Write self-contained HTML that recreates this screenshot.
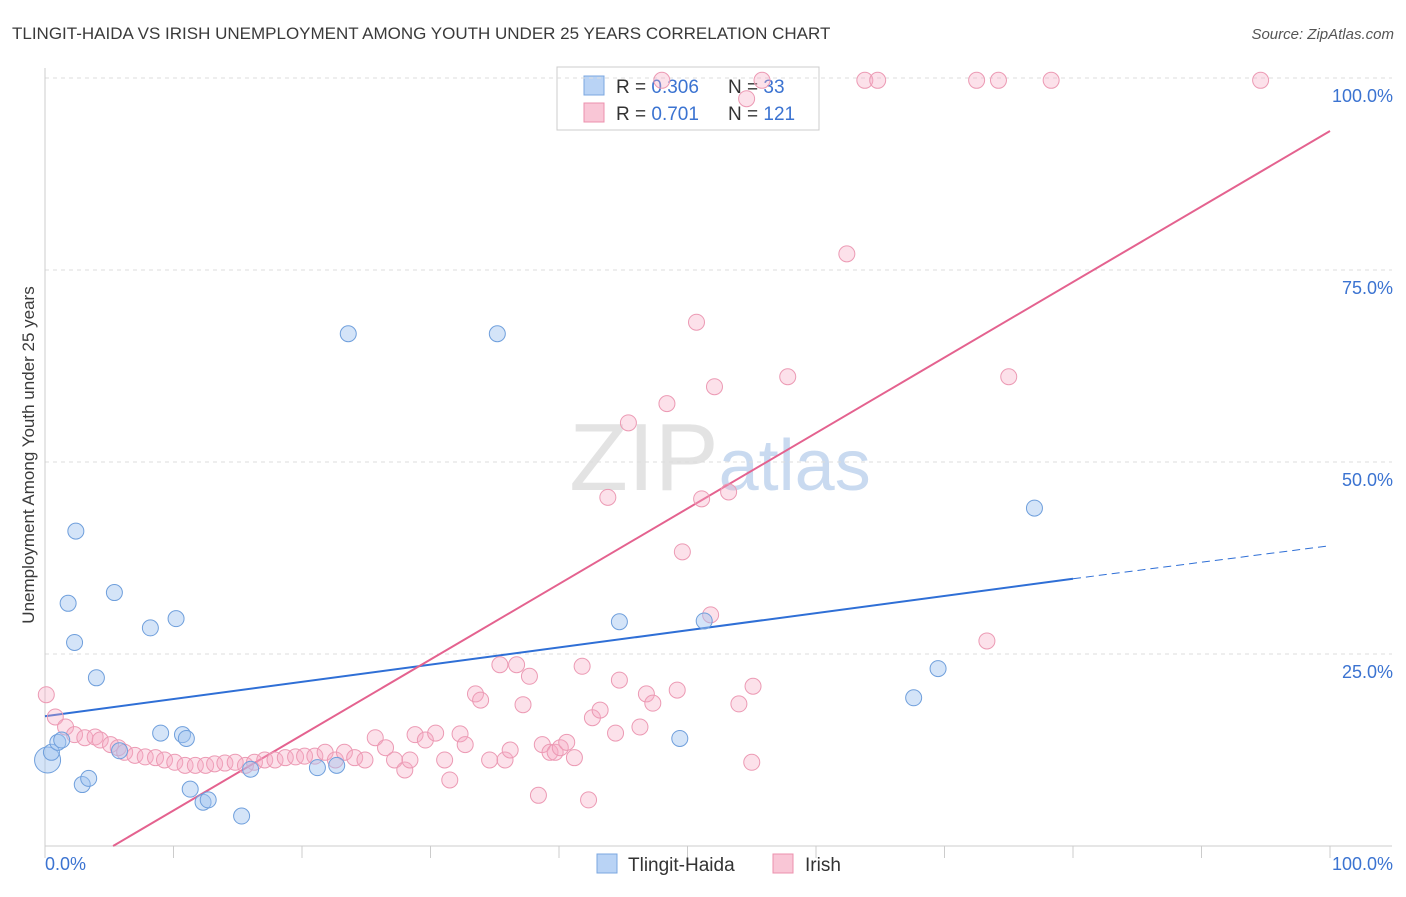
<!DOCTYPE html>
<html><head><meta charset="utf-8">
<style>
body{margin:0;background:#fff;font-family:"Liberation Sans",sans-serif;}
svg text{font-family:"Liberation Sans",sans-serif;}
</style></head>
<body>
<svg id="chart" width="1406" height="892" xmlns="http://www.w3.org/2000/svg">
<text x="12" y="39" font-size="17" fill="#3a3a3a">TLINGIT-HAIDA VS IRISH UNEMPLOYMENT AMONG YOUTH UNDER 25 YEARS CORRELATION CHART</text>
<text x="1394" y="39" font-size="15" fill="#555" text-anchor="end" font-style="italic">Source: ZipAtlas.com</text>
<text x="720" y="490" font-size="96" text-anchor="middle" fill="#e3e3e3" font-family="Liberation Serif">ZIP<tspan fill="#c9daf0" font-family="Liberation Sans" font-size="72">atlas</tspan></text>
<text transform="translate(34,455) rotate(-90)" font-size="17" fill="#3a3a3a" text-anchor="middle">Unemployment Among Youth under 25 years</text>
<g>
<rect x="557" y="67" width="262" height="63" fill="#fff" stroke="#ccc"/>
<rect x="584" y="76" width="20" height="19" fill="#b9d3f5" stroke="#7ba7e0"/>
<rect x="584" y="103" width="20" height="19" fill="#f9c6d6" stroke="#ec90ad"/>
<text x="616" y="93" font-size="19" fill="#333">R = <tspan fill="#3b73d1">0.306</tspan></text>
<text x="728" y="93" font-size="19" fill="#333">N = <tspan fill="#3b73d1"> 33</tspan></text>
<text x="616" y="120" font-size="19" fill="#333">R = <tspan fill="#3b73d1"> 0.701</tspan></text>
<text x="728" y="120" font-size="19" fill="#333">N = <tspan fill="#3b73d1">121</tspan></text>
</g>
<g id="grid"></g><g id="axes"></g><g id="lines"></g><g id="pts"></g>
<g>
<rect x="597" y="854" width="20" height="19" fill="#b9d3f5" stroke="#7ba7e0"/>
<text x="628" y="871" font-size="19" fill="#333">Tlingit-Haida</text>
<rect x="773" y="854" width="20" height="19" fill="#f9c6d6" stroke="#ec90ad"/>
<text x="805" y="871" font-size="19" fill="#333">Irish</text>
</g>
</svg>
<script>
const yTicks=[25,50,75,100];
const xTicks=[0,10,20,30,40,50,60,70,80,90,100];
const blueX=[0.2,0.5,1,1.3,2.4,1.8,2.3,2.9,3.4,4,5.4,5.8,8.2,9,10.2,10.7,11,11.3,12.3,12.7,15.3,16,21.2,22.7,23.6,35.2,44.7,49.4,51.3,67.6,69.5,77];
const blueY=[11.2,12.2,13.5,13.8,41,31.6,26.5,8,8.8,21.9,33,12.4,28.4,14.7,29.6,14.5,14,7.4,5.7,6,3.9,10,10.2,10.5,66.7,66.7,29.2,14,29.3,19.3,23.1,44];
const pinkX=[0.1,0.8,1.6,2.3,3.1,3.9,4.3,5.1,5.7,6.2,7.0,7.8,8.6,9.3,10.1,10.9,11.7,12.5,13.2,14.0,14.8,15.6,16.3,17.1,17.9,18.7,19.5,20.2,21.0,21.8,22.6,23.3,24.1,24.9,25.7,26.5,27.2,28.0,28.4,28.8,29.6,30.4,31.1,31.5,32.3,32.7,33.5,33.9,34.6,35.4,35.8,36.2,36.7,37.2,37.7,38.4,38.7,39.3,39.7,40.1,40.6,41.2,41.8,42.3,42.6,43.2,43.8,44.4,44.7,45.4,46.3,46.8,47.3,48.4,49.2,49.6,50.7,51.1,51.8,52.1,53.2,54.0,54.6,55.1,55.0,55.8,57.8,62.4,63.8,64.8,72.5,74.2,75.0,78.3,94.6,73.3,48.0];
const pinkY=[19.7,16.8,15.5,14.5,14.1,14.2,13.8,13.2,12.8,12.2,11.8,11.6,11.5,11.2,10.9,10.5,10.5,10.5,10.7,10.8,10.9,10.5,10.9,11.2,11.2,11.5,11.6,11.7,11.7,12.2,11.2,12.2,11.5,11.2,14.1,12.8,11.2,9.9,11.2,14.5,13.8,14.7,11.2,8.6,14.6,13.2,19.8,19.0,11.2,23.6,11.2,12.5,23.6,18.4,22.1,6.6,13.2,12.2,12.2,12.8,13.5,11.5,23.4,6.0,16.7,17.7,45.4,14.7,21.6,55.1,15.5,19.8,18.6,57.6,20.3,38.3,68.2,45.2,30.1,59.8,46.1,18.5,97.3,20.8,10.9,99.7,61.1,77.1,99.7,99.7,99.7,99.7,61.1,99.7,99.7,26.7,99.7];
const blueLine=[[0,16.9],[80,34.8],[100,39.1]];
const pinkLine=[[5.3,0],[100,93.1]];
const NS="http://www.w3.org/2000/svg";
const X=v=>45+v*12.85, Y=v=>846-v*7.68;
function mk(tag,at,parent){const e=document.createElementNS(NS,tag);for(const k in at)e.setAttribute(k,at[k]);parent.appendChild(e);return e;}
const grid=document.getElementById('grid'),axes=document.getElementById('axes'),lines=document.getElementById('lines'),pts=document.getElementById('pts');
yTicks.forEach(t=>{
 const l=mk('line',{x1:45,x2:1392,y1:Y(t),y2:Y(t),stroke:'#ddd','stroke-dasharray':'4,4'},grid);
 
 
 const tx=mk('text',{x:1393,y:Y(t)+24,'font-size':18,fill:'#3b73d1','text-anchor':'end'},grid);
 tx.textContent=t.toFixed(1)+'%';
 
 
});
const ax=mk('line',{x1:45,x2:1392,y1:846,y2:846,stroke:'#ccc'},axes);


const ay=mk('line',{x1:45,x2:45,y1:68,y2:846,stroke:'#ccc'},axes);


xTicks.forEach(t=>{
 const l=mk('line',{x1:X(t),x2:X(t),y1:846,y2:858,stroke:'#ccc'},axes);
 
 
});
[[0,'0.0%','start',45],[100,'100.0%','end',1393]].forEach(a=>{
 const tx=mk('text',{x:a[3],y:870,'font-size':18,fill:'#3b73d1','text-anchor':a[2]},axes);
 tx.textContent=a[1];
 
 
});
pinkX.forEach((v,i)=>{
 const c=mk('circle',{cx:X(v),cy:Y(pinkY[i]),r:8,fill:'rgba(246,170,196,0.35)',stroke:'#ec9ab4','stroke-width':1},pts);
 
 
});
blueX.forEach((v,i)=>{
 const c=mk('circle',{cx:X(v),cy:Y(blueY[i]),r:i==0?13:8,fill:'rgba(160,195,240,0.45)',stroke:'#6f9fdc','stroke-width':1},pts);
 
 
});
const b1=mk('line',{x1:X(blueLine[0][0]),y1:Y(blueLine[0][1]),x2:X(blueLine[1][0]),y2:Y(blueLine[1][1]),stroke:'#2f6fd6','stroke-width':2},lines);


const b2=mk('line',{x1:X(blueLine[1][0]),y1:Y(blueLine[1][1]),x2:X(blueLine[2][0]),y2:Y(blueLine[2][1]),stroke:'#2f6fd6','stroke-width':1,'stroke-dasharray':'8,5'},lines);


const p1=mk('line',{x1:X(pinkLine[0][0]),y1:Y(pinkLine[0][1]),x2:X(pinkLine[1][0]),y2:Y(pinkLine[1][1]),stroke:'#e4628f','stroke-width':2},lines);


</script>
</body></html>
